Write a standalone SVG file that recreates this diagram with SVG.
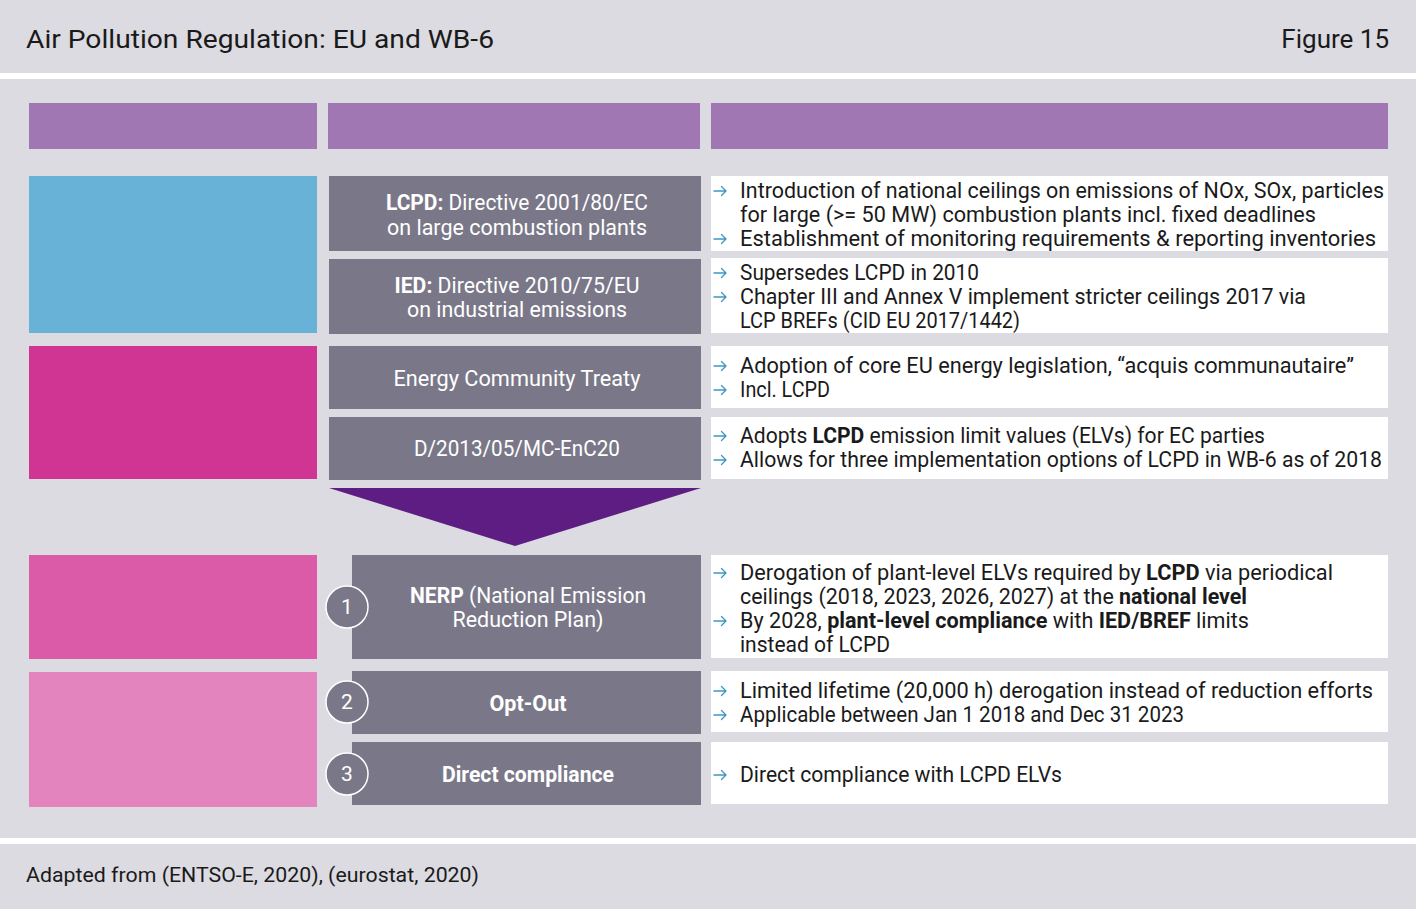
<svg xmlns="http://www.w3.org/2000/svg" width="1416" height="909" viewBox="0 0 1416 909">
<style>
text{font-family:Roboto,"Liberation Sans",sans-serif;}
.bg{fill:#dcdbe1}
.hdr{fill:#a077b2}
.gray{fill:#7a7888}
.wht{fill:#ffffff}
.gt{fill:#ffffff;font-size:21.2px;text-anchor:middle}
.rt{fill:#1a1a1a;font-size:21.4px}
.num{fill:#ffffff;font-size:21px;text-anchor:middle}
.circ{fill:#7a7888;stroke:#ffffff;stroke-width:1.5}
.b{font-weight:bold}
.arr{fill:none;stroke:#3f95c5;stroke-width:1.3;stroke-linecap:round;stroke-linejoin:round}
</style>
<defs>
<path id="ar" class="arr" d="M0,0 H12 M7.5,-4.5 L12,0 L7.5,4.5"/>
</defs>
<rect class="bg" x="0" y="0" width="1416" height="909"/>
<rect fill="#ffffff" x="0" y="73" width="1416" height="6"/>
<rect fill="#ffffff" x="0" y="838" width="1416" height="6"/>
<text x="26" y="48" font-size="26.5" fill="#1a1a1a" textLength="468" lengthAdjust="spacingAndGlyphs">Air Pollution Regulation: EU and WB-6</text>
<text x="1389" y="48" font-size="26" fill="#1a1a1a" text-anchor="end">Figure 15</text>
<text x="26" y="882" font-size="21" fill="#1a1a1a" textLength="453" lengthAdjust="spacingAndGlyphs">Adapted from (ENTSO-E, 2020), (eurostat, 2020)</text>

<g id="headers">
<rect class="hdr" x="29" y="103" width="288" height="46"/>
<rect class="hdr" x="328" y="103" width="372" height="46"/>
<rect class="hdr" x="711" y="103" width="677" height="46"/>
</g>

<g id="categories">
<rect fill="#67b2d6" x="29" y="176" width="288" height="157"/>
<rect fill="#d03594" x="29" y="346" width="288" height="133"/>
<rect fill="#db5ba9" x="29" y="555" width="288" height="104"/>
<rect fill="#e384bf" x="29" y="672" width="288" height="135"/>
</g>

<g id="lcpd">
<rect class="gray" x="329" y="176" width="372" height="75"/>
<text class="gt" x="517" y="210" textLength="262" lengthAdjust="spacingAndGlyphs"><tspan class="b">LCPD:</tspan> Directive 2001/80/EC</text>
<text class="gt" x="517" y="235" textLength="260" lengthAdjust="spacingAndGlyphs">on large combustion plants</text>
<rect class="wht" x="711" y="176" width="677" height="75"/>
<use href="#ar" x="714" y="191"/><text class="rt" x="740" y="198" textLength="644" lengthAdjust="spacingAndGlyphs">Introduction of national ceilings on emissions of NOx, SOx, particles</text>
<text class="rt" x="740" y="222" textLength="576" lengthAdjust="spacingAndGlyphs">for large (&gt;= 50 MW) combustion plants incl. fixed deadlines</text>
<use href="#ar" x="714" y="239"/><text class="rt" x="740" y="246" textLength="636" lengthAdjust="spacingAndGlyphs">Establishment of monitoring requirements &amp; reporting inventories</text>
</g>

<g id="ied">
<rect class="gray" x="329" y="259" width="372" height="75"/>
<text class="gt" x="517" y="293" textLength="245" lengthAdjust="spacingAndGlyphs"><tspan class="b">IED:</tspan> Directive 2010/75/EU</text>
<text class="gt" x="517" y="317" textLength="220" lengthAdjust="spacingAndGlyphs">on industrial emissions</text>
<rect class="wht" x="711" y="258" width="677" height="75"/>
<use href="#ar" x="714" y="273"/><text class="rt" x="740" y="280" textLength="239" lengthAdjust="spacingAndGlyphs">Supersedes LCPD in 2010</text>
<use href="#ar" x="714" y="297"/><text class="rt" x="740" y="304" textLength="566" lengthAdjust="spacingAndGlyphs">Chapter III and Annex V implement stricter ceilings 2017 via</text>
<text class="rt" x="740" y="328" textLength="280" lengthAdjust="spacingAndGlyphs">LCP BREFs (CID EU 2017/1442)</text>
</g>

<g id="ect">
<rect class="gray" x="329" y="346" width="372" height="63"/>
<text class="gt" x="517" y="386" textLength="247" lengthAdjust="spacingAndGlyphs">Energy Community Treaty</text>
<rect class="wht" x="711" y="346" width="677" height="62"/>
<use href="#ar" x="714" y="366"/><text class="rt" x="740" y="373" textLength="614" lengthAdjust="spacingAndGlyphs">Adoption of core EU energy legislation, “acquis communautaire”</text>
<use href="#ar" x="714" y="390"/><text class="rt" x="740" y="397" textLength="90" lengthAdjust="spacingAndGlyphs">Incl. LCPD</text>
</g>

<g id="decision">
<rect class="gray" x="329" y="417" width="372" height="63"/>
<text class="gt" x="517" y="456" textLength="206" lengthAdjust="spacingAndGlyphs">D/2013/05/MC-EnC20</text>
<rect class="wht" x="711" y="417" width="677" height="62"/>
<use href="#ar" x="714" y="436"/><text class="rt" x="740" y="443" textLength="525" lengthAdjust="spacingAndGlyphs">Adopts <tspan class="b">LCPD</tspan> emission limit values (ELVs) for EC parties</text>
<use href="#ar" x="714" y="460"/><text class="rt" x="740" y="467" textLength="642" lengthAdjust="spacingAndGlyphs">Allows for three implementation options of LCPD in WB-6 as of 2018</text>
</g>

<g id="connectors">
<polygon fill="#5e1d82" points="329,488 701,488 515,546"/>
</g>

<g id="nerp">
<rect class="gray" x="352" y="555" width="349" height="104"/>
<circle class="circ" cx="347" cy="607" r="21"/>
<text class="num" x="347" y="614">1</text>
<text class="gt" x="528" y="603" textLength="236" lengthAdjust="spacingAndGlyphs"><tspan class="b">NERP</tspan> (National Emission</text>
<text class="gt" x="528" y="627" textLength="151" lengthAdjust="spacingAndGlyphs">Reduction Plan)</text>
<rect class="wht" x="711" y="555" width="677" height="103"/>
<use href="#ar" x="714" y="573"/><text class="rt" x="740" y="580" textLength="593" lengthAdjust="spacingAndGlyphs">Derogation of plant-level ELVs required by <tspan class="b">LCPD</tspan> via periodical</text>
<text class="rt" x="740" y="604" textLength="507" lengthAdjust="spacingAndGlyphs">ceilings (2018, 2023, 2026, 2027) at the <tspan class="b">national level</tspan></text>
<use href="#ar" x="714" y="621"/><text class="rt" x="740" y="628" textLength="509" lengthAdjust="spacingAndGlyphs">By 2028, <tspan class="b">plant-level compliance</tspan> with <tspan class="b">IED/BREF</tspan> limits</text>
<text class="rt" x="740" y="652" textLength="150" lengthAdjust="spacingAndGlyphs">instead of LCPD</text>
</g>

<g id="optout">
<rect class="gray" x="352" y="671" width="349" height="63"/>
<circle class="circ" cx="347" cy="702" r="21"/>
<text class="num" x="347" y="709">2</text>
<text class="gt b" x="528" y="711" textLength="77" lengthAdjust="spacingAndGlyphs">Opt-Out</text>
<rect class="wht" x="711" y="671" width="677" height="61"/>
<use href="#ar" x="714" y="691"/><text class="rt" x="740" y="698" textLength="633" lengthAdjust="spacingAndGlyphs">Limited lifetime (20,000 h) derogation instead of reduction efforts</text>
<use href="#ar" x="714" y="715"/><text class="rt" x="740" y="722" textLength="444" lengthAdjust="spacingAndGlyphs">Applicable between Jan 1 2018 and Dec 31 2023</text>
</g>

<g id="direct">
<rect class="gray" x="352" y="742" width="349" height="63"/>
<circle class="circ" cx="347" cy="774" r="21"/>
<text class="num" x="347" y="781">3</text>
<text class="gt b" x="528" y="782" textLength="172" lengthAdjust="spacingAndGlyphs">Direct compliance</text>
<rect class="wht" x="711" y="742" width="677" height="62"/>
<use href="#ar" x="714" y="775"/><text class="rt" x="740" y="782" textLength="322" lengthAdjust="spacingAndGlyphs">Direct compliance with LCPD ELVs</text>
</g>
</svg>
